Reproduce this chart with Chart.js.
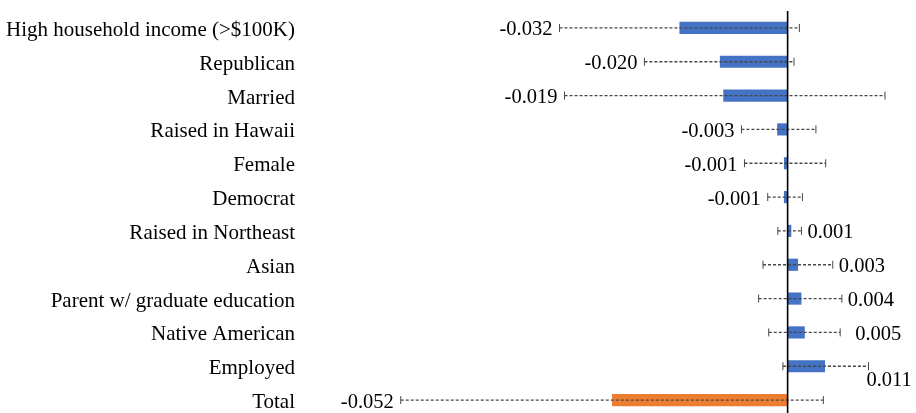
<!DOCTYPE html>
<html>
<head>
<meta charset="utf-8">
<script src="https://cdn.jsdelivr.net/npm/chart.js@4"></script>
<style>
  html, body { margin: 0; padding: 0; background: #fff; overflow: hidden; }
  #wrap { position: relative; width: 916px; height: 417px; }
</style>
</head>
<body>
<div id="wrap"><canvas id="effects-chart"></canvas></div>
<script>
// group effects with 95% interval bounds
const categories = [
  "High household income (>$100K)", "Republican", "Married", "Raised in Hawaii",
  "Female", "Democrat", "Raised in Northeast", "Asian",
  "Parent w/ graduate education", "Native American", "Employed", "Total"
];
const effects = [-0.032, -0.020, -0.019, -0.003, -0.001, -0.001, 0.001, 0.003, 0.004, 0.005, 0.011, -0.052];
const lowerBounds = [-0.0677, -0.0425, -0.0662, -0.0137, -0.0128, -0.0059, -0.0029, -0.0073, -0.0086, -0.0056, -0.0014, -0.1148];
const upperBounds = [0.0035, 0.0019, 0.0289, 0.0084, 0.0113, 0.0044, 0.0041, 0.0134, 0.0161, 0.0156, 0.0240, 0.0106];
const valueLabels = ["-0.032", "-0.020", "-0.019", "-0.003", "-0.001", "-0.001", "0.001", "0.003", "0.004", "0.005", "0.011", "-0.052"];

const SERIF = '"Liberation Serif", "Times New Roman", serif';
const BLUE = "#4472C4";
const ORANGE = "#ED7D31";

// error bars, value labels and the zero line
const errorBarPlugin = {
  id: "errorBars",
  afterDatasetsDraw(chart) {
    const ctx = chart.ctx;
    const x = chart.scales.x;
    const y = chart.scales.y;
    const area = chart.chartArea;

    ctx.save();
    categories.forEach((c, i) => {
      const yc = y.getPixelForValue(i);
      const xl = x.getPixelForValue(lowerBounds[i]);
      const xr = x.getPixelForValue(upperBounds[i]);

      ctx.strokeStyle = "#474747";
      ctx.lineWidth = 1.4;
      ctx.setLineDash([3, 2]);
      ctx.beginPath();
      ctx.moveTo(xl, yc);
      ctx.lineTo(xr, yc);
      ctx.stroke();

      ctx.setLineDash([]);
      ctx.lineWidth = 1;
      ctx.beginPath();
      ctx.moveTo(xl, yc - 4);
      ctx.lineTo(xl, yc + 4);
      ctx.moveTo(xr, yc - 4);
      ctx.lineTo(xr, yc + 4);
      ctx.stroke();

      ctx.fillStyle = "#000";
      ctx.font = "20.5px " + SERIF;
      ctx.textBaseline = "alphabetic";
      if (effects[i] < 0) {
        ctx.textAlign = "right";
        ctx.fillText(valueLabels[i], xl - 7, yc + 7.5);
      } else if (categories[i] === "Employed") {
        ctx.textAlign = "left";
        ctx.fillText(valueLabels[i], xr - 2, yc + 20);
      } else {
        const gap = categories[i] === "Native American" ? 15 : 6;
        ctx.textAlign = "left";
        ctx.fillText(valueLabels[i], xr + gap, yc + 7.5);
      }
    });

    const x0 = x.getPixelForValue(0);
    ctx.strokeStyle = "#000";
    ctx.lineWidth = 1.6;
    ctx.beginPath();
    ctx.moveTo(x0, area.top);
    ctx.lineTo(x0, area.bottom);
    ctx.stroke();
    ctx.restore();
  }
};

new Chart(document.getElementById("effects-chart"), {
  type: "bar",
  data: {
    labels: categories,
    datasets: [{
      data: effects,
      backgroundColor: categories.map(c => c === "Total" ? ORANGE : BLUE),
      barThickness: 11.5,
      borderWidth: 0
    }]
  },
  options: {
    indexAxis: "y",
    responsive: true,
    maintainAspectRatio: false,
    animation: false,
    layout: { padding: { top: 11, bottom: 0, left: 0, right: 0 } },
    plugins: {
      legend: { display: false },
      tooltip: { enabled: false }
    },
    scales: {
      x: {
        min: -0.1447,
        max: 0.0381,
        display: false
      },
      y: {
        grid: { display: false, drawTicks: false },
        border: { display: false },
        ticks: {
          color: "#000",
          padding: 5,
          labelOffset: 2.5,
          font: { family: SERIF, size: 21 }
        },
        afterFit(scale) {
          scale.width = 300;
          scale.paddingTop = 0;
          scale.paddingBottom = 0;
        }
      }
    }
  },
  plugins: [errorBarPlugin]
});
</script>
</body>
</html>
